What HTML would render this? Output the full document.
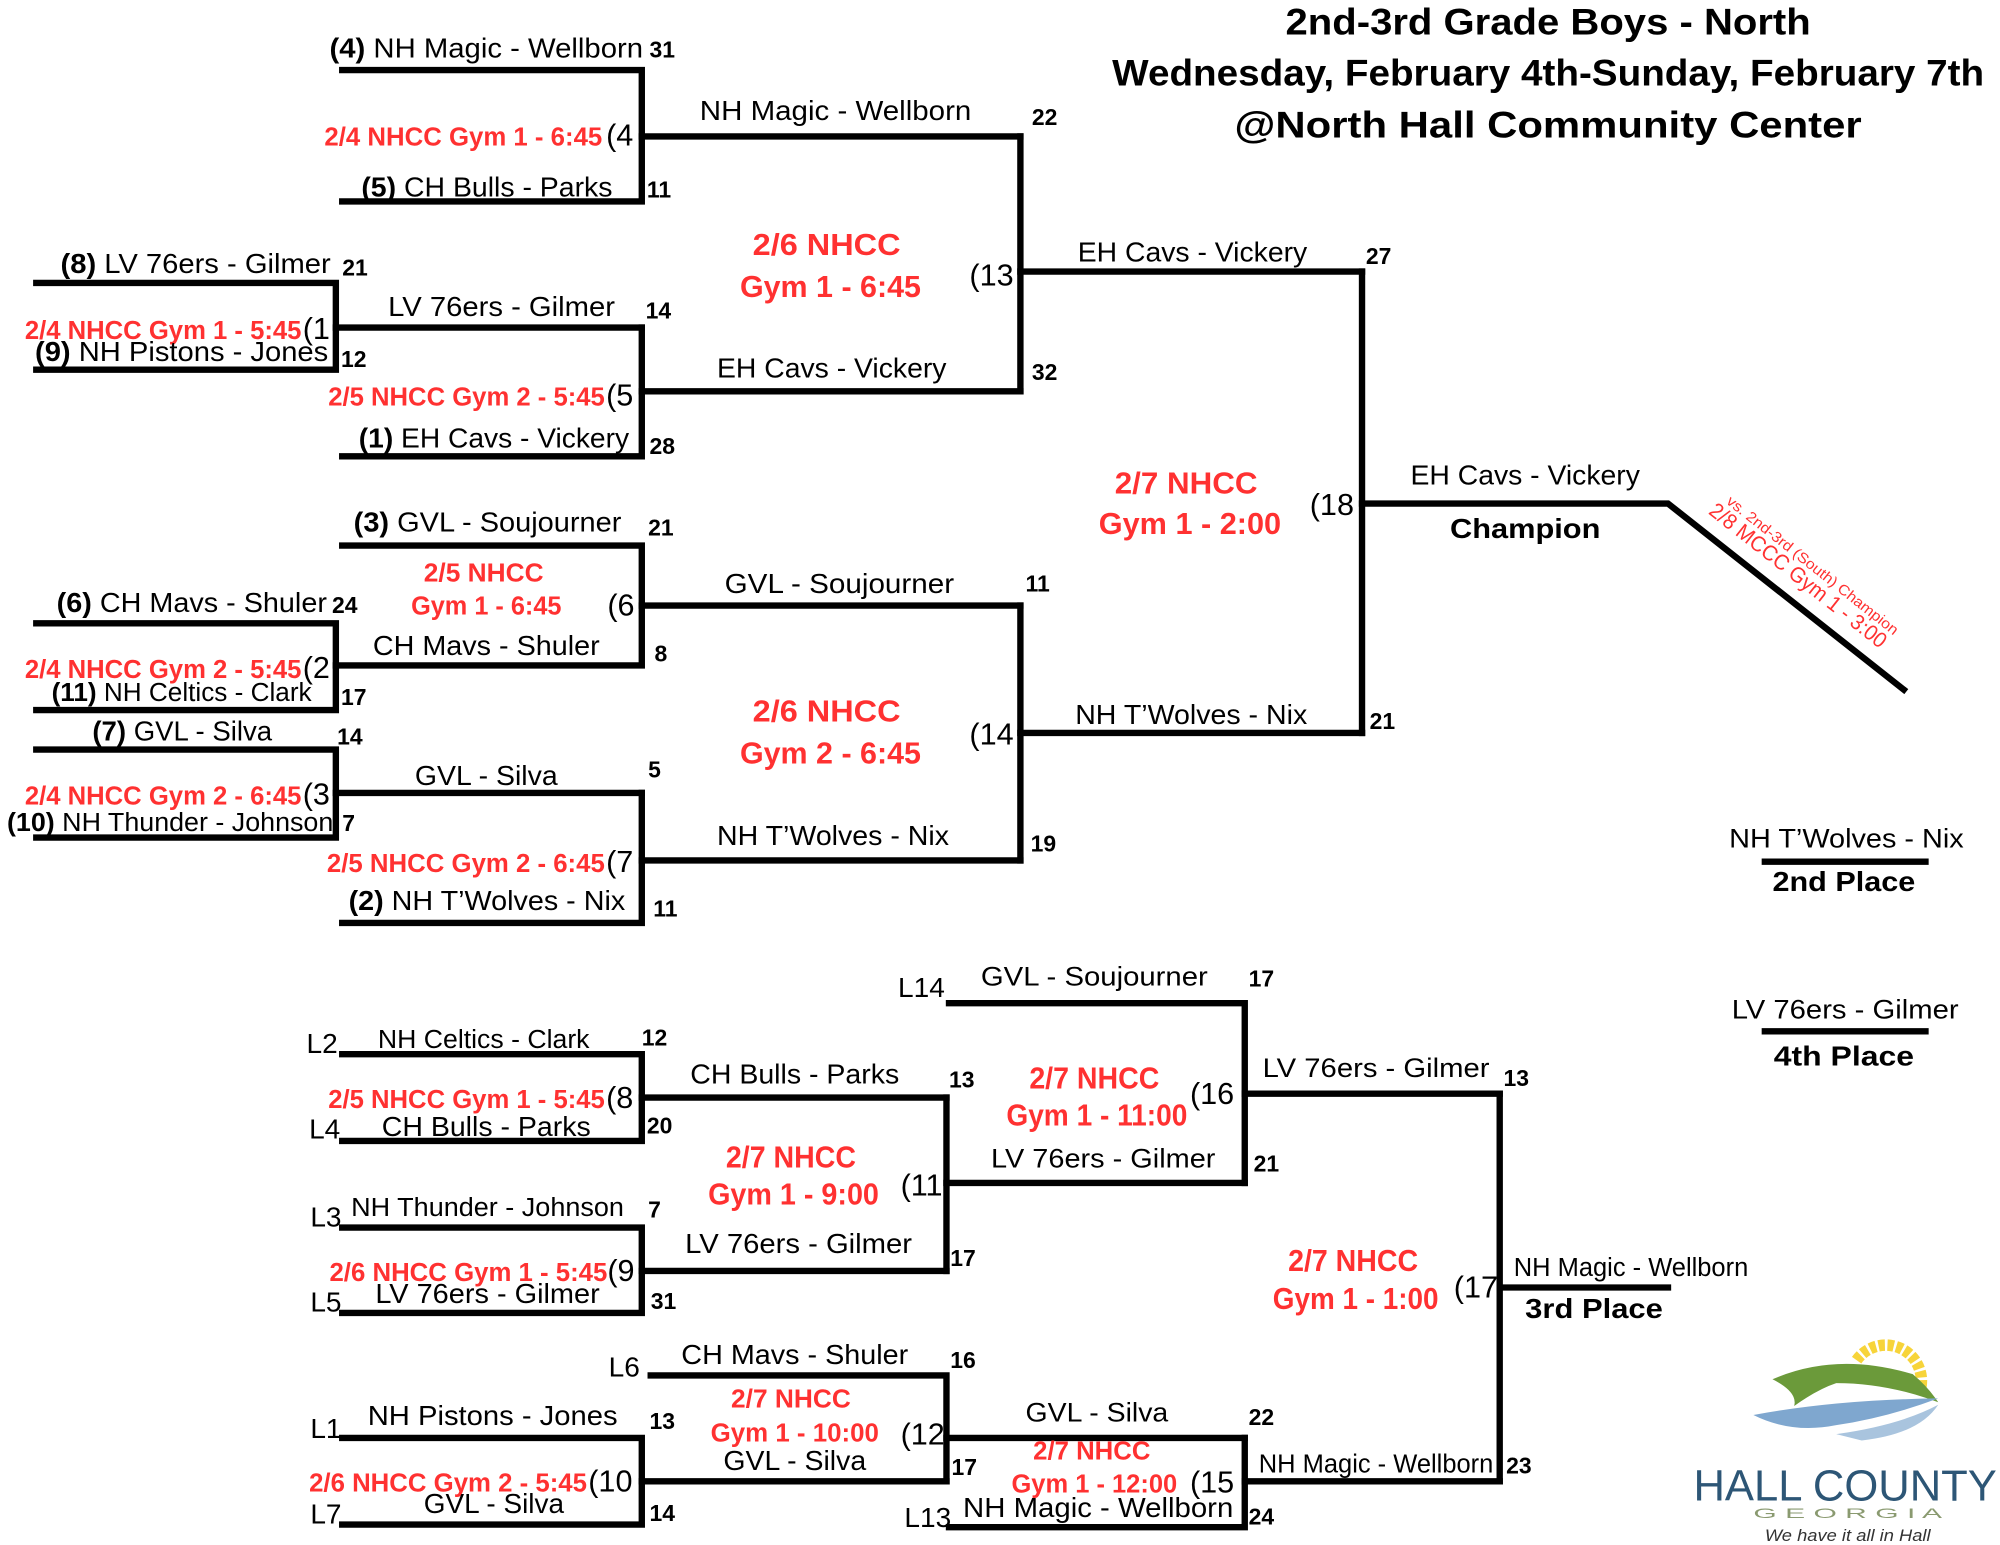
<!DOCTYPE html>
<html><head><meta charset="utf-8"><style>
html,body{margin:0;padding:0;background:#fff;}
svg{display:block;}
text{font-family:"Liberation Sans Narrow","Liberation Sans",sans-serif;}
.t{font-size:22px;fill:#000;}
.s{font-size:20px;fill:#000;}
.n{font-size:18px;font-weight:bold;fill:#000;}
.r{font-size:20px;font-weight:bold;fill:#ff3131;}
.R{font-size:24px;font-weight:bold;fill:#ff3131;}
.p{font-size:24px;fill:#000;}
.b{font-size:22px;font-weight:bold;fill:#000;font-family:"Liberation Sans",sans-serif;}
.h{font-size:29px;font-weight:bold;fill:#000;}
.w{font-size:21px;fill:#000;font-family:"Liberation Sans",sans-serif;}
</style></head><body>
<svg width="2000" height="1545" viewBox="0 0 1568 1212" xmlns="http://www.w3.org/2000/svg">
<rect width="1568" height="1212" fill="#fff"/>
<g fill="none" stroke="#000" stroke-width="5" stroke-linecap="square">
<!-- top bracket -->
<polyline points="268,55 503,55 503,158 268,158"/>
<line x1="503" y1="107" x2="800" y2="107"/>
<polyline points="28,222 263,222 263,290 28,290"/>
<line x1="263" y1="257" x2="503" y2="257"/>
<polyline points="503,257 503,358 268,358"/>
<line x1="503" y1="307" x2="800" y2="307"/>
<line x1="800" y1="107" x2="800" y2="307"/>
<line x1="800" y1="213" x2="1068" y2="213"/>
<polyline points="268,428 503,428 503,522 263,522"/>
<line x1="503" y1="475" x2="800" y2="475"/>
<polyline points="28,489 263,489 263,557 28,557"/>
<polyline points="28,588 263,588 263,657 28,657"/>
<line x1="263" y1="622" x2="503" y2="622"/>
<polyline points="503,622 503,724 268,724"/>
<line x1="503" y1="675" x2="800" y2="675"/>
<line x1="800" y1="475" x2="800" y2="675"/>
<line x1="800" y1="575" x2="1068" y2="575"/>
<line x1="1068" y1="213" x2="1068" y2="575"/>
<polyline points="1068,395 1308,395 1493,541"/>
<line x1="1384" y1="676" x2="1510" y2="676"/>
<line x1="1384" y1="809" x2="1510" y2="809"/>
<!-- consolation -->
<polyline points="268,827 503,827 503,895 268,895"/>
<line x1="503" y1="861" x2="742" y2="861"/>
<polyline points="268,963 503,963 503,1030 268,1030"/>
<line x1="503" y1="997" x2="742" y2="997"/>
<line x1="742" y1="861" x2="742" y2="997"/>
<line x1="742" y1="928" x2="976" y2="928"/>
<polyline points="744,787 976,787 976,928"/>
<line x1="976" y1="858" x2="1176" y2="858"/>
<polyline points="268,1128 503,1128 503,1196 268,1196"/>
<line x1="503" y1="1162" x2="742" y2="1162"/>
<polyline points="510,1079 742,1079 742,1162"/>
<line x1="742" y1="1128" x2="976" y2="1128"/>
<polyline points="744,1198 976,1198 976,1128"/>
<line x1="976" y1="1162" x2="1176" y2="1162"/>
<line x1="1176" y1="858" x2="1176" y2="1162"/>
<line x1="1176" y1="1010" x2="1308" y2="1010"/>
</g>

<!-- title -->
<text class="h" x="1214" y="27" text-anchor="middle" textLength="412" lengthAdjust="spacingAndGlyphs">2nd-3rd Grade Boys  - North</text>
<text class="h" x="1214" y="67" text-anchor="middle" textLength="684" lengthAdjust="spacingAndGlyphs">Wednesday, February 4th-Sunday, February 7th</text>
<text class="h" x="1214" y="108" text-anchor="middle" textLength="492" lengthAdjust="spacingAndGlyphs">@North Hall Community Center</text>

<g lengthAdjust="spacingAndGlyphs">
<!-- top bracket labels -->
<text class="t" x="258" y="45" textLength="246" lengthAdjust="spacingAndGlyphs"><tspan font-weight="bold">(4)</tspan> NH Magic - Wellborn</text>
<text class="n" x="509" y="45">31</text>
<text class="r" x="472" y="114" text-anchor="end" textLength="218" lengthAdjust="spacingAndGlyphs">2/4 NHCC Gym 1 - 6:45</text>
<text class="p" x="475" y="114">(4</text>
<text class="t" x="283" y="154" textLength="197" lengthAdjust="spacingAndGlyphs"><tspan font-weight="bold">(5)</tspan> CH Bulls - Parks</text>
<text class="n" x="507" y="155">11</text>
<text class="t" x="655" y="94" text-anchor="middle" textLength="213" lengthAdjust="spacingAndGlyphs">NH Magic - Wellborn</text>
<text class="n" x="809" y="98">22</text>
<text class="R" x="648" y="200" text-anchor="middle" textLength="116" lengthAdjust="spacingAndGlyphs">2/6 NHCC</text>
<text class="R" x="651" y="233" text-anchor="middle" textLength="142" lengthAdjust="spacingAndGlyphs">Gym 1 - 6:45</text>
<text class="p" x="760" y="224">(13</text>
<text class="t" x="47" y="214" textLength="212" lengthAdjust="spacingAndGlyphs"><tspan font-weight="bold">(8)</tspan> LV 76ers - Gilmer</text>
<text class="n" x="268" y="216">21</text>
<text class="r" x="236" y="266" text-anchor="end" textLength="217" lengthAdjust="spacingAndGlyphs">2/4 NHCC Gym 1 - 5:45</text>
<text class="p" x="237" y="266">(1</text>
<text class="t" x="27" y="283" textLength="230" lengthAdjust="spacingAndGlyphs"><tspan font-weight="bold">(9)</tspan> NH Pistons - Jones</text>
<text class="n" x="267" y="288">12</text>
<text class="t" x="393" y="248" text-anchor="middle" textLength="178" lengthAdjust="spacingAndGlyphs">LV 76ers - Gilmer</text>
<text class="n" x="506" y="250">14</text>
<text class="r" x="474" y="318" text-anchor="end" textLength="217" lengthAdjust="spacingAndGlyphs">2/5 NHCC Gym 2 - 5:45</text>
<text class="p" x="475" y="318">(5</text>
<text class="t" x="652" y="296" text-anchor="middle" textLength="180" lengthAdjust="spacingAndGlyphs">EH Cavs - Vickery</text>
<text class="n" x="809" y="298">32</text>
<text class="t" x="281" y="351" textLength="212" lengthAdjust="spacingAndGlyphs"><tspan font-weight="bold">(1)</tspan> EH Cavs - Vickery</text>
<text class="n" x="509" y="356">28</text>
<text class="t" x="935" y="205" text-anchor="middle" textLength="180" lengthAdjust="spacingAndGlyphs">EH Cavs - Vickery</text>
<text class="n" x="1071" y="207">27</text>
<text class="R" x="930" y="387" text-anchor="middle" textLength="112" lengthAdjust="spacingAndGlyphs">2/7 NHCC</text>
<text class="R" x="933" y="419" text-anchor="middle" textLength="143" lengthAdjust="spacingAndGlyphs">Gym 1 - 2:00</text>
<text class="p" x="1027" y="404">(18</text>
<text class="t" x="1196" y="380" text-anchor="middle" textLength="180" lengthAdjust="spacingAndGlyphs">EH Cavs - Vickery</text>
<text class="b" x="1196" y="422" text-anchor="middle" textLength="118" lengthAdjust="spacingAndGlyphs">Champion</text>

<text class="t" x="277" y="417" textLength="210" lengthAdjust="spacingAndGlyphs"><tspan font-weight="bold">(3)</tspan> GVL - Soujourner</text>
<text class="n" x="508" y="420">21</text>
<text class="r" x="379" y="456" text-anchor="middle" textLength="94" lengthAdjust="spacingAndGlyphs">2/5 NHCC</text>
<text class="r" x="381" y="482" text-anchor="middle" textLength="118" lengthAdjust="spacingAndGlyphs">Gym 1 - 6:45</text>
<text class="p" x="476" y="483">(6</text>
<text class="t" x="44" y="480" textLength="212" lengthAdjust="spacingAndGlyphs"><tspan font-weight="bold">(6)</tspan> CH Mavs - Shuler</text>
<text class="n" x="260" y="481">24</text>
<text class="t" x="381" y="514" text-anchor="middle" textLength="178" lengthAdjust="spacingAndGlyphs">CH Mavs - Shuler</text>
<text class="n" x="513" y="519">8</text>
<text class="t" x="658" y="465" text-anchor="middle" textLength="180" lengthAdjust="spacingAndGlyphs">GVL - Soujourner</text>
<text class="n" x="804" y="464">11</text>
<text class="R" x="648" y="566" text-anchor="middle" textLength="116" lengthAdjust="spacingAndGlyphs">2/6 NHCC</text>
<text class="R" x="651" y="599" text-anchor="middle" textLength="142" lengthAdjust="spacingAndGlyphs">Gym 2 - 6:45</text>
<text class="p" x="760" y="584">(14</text>
<text class="r" x="236" y="532" text-anchor="end" textLength="217" lengthAdjust="spacingAndGlyphs">2/4 NHCC Gym 2 - 5:45</text>
<text class="p" x="237" y="532">(2</text>
<text class="s" x="40" y="550" textLength="204" lengthAdjust="spacingAndGlyphs"><tspan font-weight="bold">(11)</tspan> NH Celtics - Clark</text>
<text class="n" x="267" y="553">17</text>
<text class="t" x="72" y="581" textLength="141" lengthAdjust="spacingAndGlyphs"><tspan font-weight="bold">(7)</tspan> GVL - Silva</text>
<text class="n" x="264" y="584">14</text>
<text class="t" x="381" y="616" text-anchor="middle" textLength="112" lengthAdjust="spacingAndGlyphs">GVL - Silva</text>
<text class="n" x="508" y="610">5</text>
<text class="r" x="236" y="631" text-anchor="end" textLength="217" lengthAdjust="spacingAndGlyphs">2/4 NHCC Gym 2 - 6:45</text>
<text class="p" x="237" y="631">(3</text>
<text class="s" x="5" y="652" textLength="256" lengthAdjust="spacingAndGlyphs"><tspan font-weight="bold">(10)</tspan> NH Thunder - Johnson</text>
<text class="n" x="268" y="652">7</text>
<text class="r" x="474" y="684" text-anchor="end" textLength="218" lengthAdjust="spacingAndGlyphs">2/5 NHCC Gym 2 - 6:45</text>
<text class="p" x="475" y="684">(7</text>
<text class="t" x="273" y="714" textLength="217" lengthAdjust="spacingAndGlyphs"><tspan font-weight="bold">(2)</tspan> NH T’Wolves - Nix</text>
<text class="n" x="512" y="719">11</text>
<text class="t" x="653" y="663" text-anchor="middle" textLength="182" lengthAdjust="spacingAndGlyphs">NH T’Wolves - Nix</text>
<text class="n" x="808" y="668">19</text>
<text class="t" x="934" y="568" text-anchor="middle" textLength="182" lengthAdjust="spacingAndGlyphs">NH T’Wolves - Nix</text>
<text class="n" x="1074" y="572">21</text>

<g transform="translate(1350,392) rotate(38.3)" fill="#ff3131" font-family="Liberation Sans, sans-serif">
<text x="4" y="0" font-size="11.5" textLength="168" lengthAdjust="spacingAndGlyphs">vs. 2nd-3rd (South) Champion</text>
<text x="-2" y="15" font-size="17" textLength="172" lengthAdjust="spacingAndGlyphs">2/8 MCCC Gym 1 - 3:00</text>
</g>

<text class="w" x="1448" y="665" text-anchor="middle" textLength="184" lengthAdjust="spacingAndGlyphs">NH T’Wolves - Nix</text>
<text class="b" x="1446" y="699" text-anchor="middle" textLength="112" lengthAdjust="spacingAndGlyphs">2nd Place</text>
<text class="w" x="1447" y="799" text-anchor="middle" textLength="178" lengthAdjust="spacingAndGlyphs">LV 76ers - Gilmer</text>
<text class="b" x="1446" y="836" text-anchor="middle" textLength="110" lengthAdjust="spacingAndGlyphs">4th Place</text>

<!-- consolation labels -->
<text class="t" x="704" y="782">L14</text>
<text class="w" x="858" y="773" text-anchor="middle" textLength="178" lengthAdjust="spacingAndGlyphs">GVL - Soujourner</text>
<text class="n" x="979" y="774">17</text>
<text class="t" x="240" y="826">L2</text>
<text class="s" x="379" y="822" text-anchor="middle" textLength="166" lengthAdjust="spacingAndGlyphs">NH Celtics - Clark</text>
<text class="n" x="503" y="820">12</text>
<text class="t" x="623" y="850" text-anchor="middle" textLength="164" lengthAdjust="spacingAndGlyphs">CH Bulls - Parks</text>
<text class="n" x="744" y="853">13</text>
<text class="r" x="474" y="869" text-anchor="end" textLength="217" lengthAdjust="spacingAndGlyphs">2/5 NHCC Gym 1 - 5:45</text>
<text class="p" x="475" y="869">(8</text>
<text class="t" x="242" y="893">L4</text>
<text class="t" x="381" y="891" text-anchor="middle" textLength="164" lengthAdjust="spacingAndGlyphs">CH Bulls - Parks</text>
<text class="n" x="507" y="889">20</text>
<text class="R" x="858" y="854" text-anchor="middle" textLength="102" lengthAdjust="spacingAndGlyphs">2/7 NHCC</text>
<text class="R" x="860" y="883" text-anchor="middle" textLength="142" lengthAdjust="spacingAndGlyphs">Gym 1 - 11:00</text>
<text class="p" x="933" y="866">(16</text>
<text class="w" x="1079" y="845" text-anchor="middle" textLength="178" lengthAdjust="spacingAndGlyphs">LV 76ers - Gilmer</text>
<text class="n" x="1179" y="852">13</text>
<text class="w" x="865" y="916" text-anchor="middle" textLength="176" lengthAdjust="spacingAndGlyphs">LV 76ers - Gilmer</text>
<text class="n" x="983" y="919">21</text>
<text class="R" x="620" y="916" text-anchor="middle" textLength="102" lengthAdjust="spacingAndGlyphs">2/7 NHCC</text>
<text class="R" x="622" y="945" text-anchor="middle" textLength="134" lengthAdjust="spacingAndGlyphs">Gym 1 - 9:00</text>
<text class="p" x="706" y="938">(11</text>
<text class="t" x="243" y="962">L3</text>
<text class="s" x="382" y="954" text-anchor="middle" textLength="214" lengthAdjust="spacingAndGlyphs">NH Thunder - Johnson</text>
<text class="n" x="508" y="955">7</text>
<text class="t" x="626" y="983" text-anchor="middle" textLength="178" lengthAdjust="spacingAndGlyphs">LV 76ers - Gilmer</text>
<text class="n" x="745" y="993">17</text>
<text class="r" x="476" y="1005" text-anchor="end" textLength="218" lengthAdjust="spacingAndGlyphs">2/6 NHCC Gym 1 - 5:45</text>
<text class="p" x="476" y="1005">(9</text>
<text class="t" x="243" y="1029">L5</text>
<text class="t" x="382" y="1022" text-anchor="middle" textLength="176" lengthAdjust="spacingAndGlyphs">LV 76ers - Gilmer</text>
<text class="n" x="510" y="1027">31</text>
<text class="R" x="1061" y="997" text-anchor="middle" textLength="102" lengthAdjust="spacingAndGlyphs">2/7 NHCC</text>
<text class="R" x="1063" y="1027" text-anchor="middle" textLength="130" lengthAdjust="spacingAndGlyphs">Gym 1 - 1:00</text>
<text class="p" x="1140" y="1018">(17</text>
<text class="s" x="1279" y="1001" text-anchor="middle" textLength="184" lengthAdjust="spacingAndGlyphs">NH Magic - Wellborn</text>
<text class="b" x="1250" y="1034" text-anchor="middle" textLength="108" lengthAdjust="spacingAndGlyphs">3rd Place</text>

<text class="t" x="477" y="1080">L6</text>
<text class="t" x="623" y="1070" text-anchor="middle" textLength="178" lengthAdjust="spacingAndGlyphs">CH Mavs - Shuler</text>
<text class="n" x="745" y="1073">16</text>
<text class="r" x="620" y="1104" text-anchor="middle" textLength="94" lengthAdjust="spacingAndGlyphs">2/7 NHCC</text>
<text class="r" x="623" y="1131" text-anchor="middle" textLength="132" lengthAdjust="spacingAndGlyphs">Gym 1 - 10:00</text>
<text class="p" x="706" y="1133">(12</text>
<text class="t" x="623" y="1153" text-anchor="middle" textLength="112" lengthAdjust="spacingAndGlyphs">GVL - Silva</text>
<text class="n" x="746" y="1157">17</text>
<text class="t" x="243" y="1128">L1</text>
<text class="t" x="386" y="1118" text-anchor="middle" textLength="196" lengthAdjust="spacingAndGlyphs">NH Pistons - Jones</text>
<text class="n" x="509" y="1121">13</text>
<text class="r" x="460" y="1170" text-anchor="end" textLength="218" lengthAdjust="spacingAndGlyphs">2/6 NHCC Gym 2 - 5:45</text>
<text class="p" x="461" y="1170">(10</text>
<text class="t" x="243" y="1195">L7</text>
<text class="t" x="387" y="1187" text-anchor="middle" textLength="110" lengthAdjust="spacingAndGlyphs">GVL - Silva</text>
<text class="n" x="509" y="1193">14</text>
<text class="w" x="860" y="1115" text-anchor="middle" textLength="112" lengthAdjust="spacingAndGlyphs">GVL - Silva</text>
<text class="n" x="979" y="1118">22</text>
<text class="r" x="856" y="1145" text-anchor="middle" textLength="92" lengthAdjust="spacingAndGlyphs">2/7 NHCC</text>
<text class="r" x="858" y="1171" text-anchor="middle" textLength="130" lengthAdjust="spacingAndGlyphs">Gym 1 - 12:00</text>
<text class="p" x="933" y="1171">(15</text>
<text class="s" x="1079" y="1155" text-anchor="middle" textLength="184" lengthAdjust="spacingAndGlyphs">NH Magic - Wellborn</text>
<text class="n" x="1181" y="1156">23</text>
<text class="t" x="709" y="1198">L13</text>
<text class="t" x="861" y="1190" text-anchor="middle" textLength="212" lengthAdjust="spacingAndGlyphs">NH Magic - Wellborn</text>
<text class="n" x="979" y="1196">24</text>
</g>

<!-- logo -->
<g>
<path d="M1456,1067 A28,28 0 0 1 1506,1090" fill="none" stroke="#f7d43a" stroke-width="9" stroke-dasharray="5,2"/>
<path d="M1390,1082 Q1440,1060 1500,1078 Q1512,1088 1520,1100 Q1480,1085 1440,1085 Q1425,1090 1407,1103 Q1410,1092 1390,1082 Z" fill="#6b9a3a"/>
<path d="M1375,1110 Q1440,1098 1520,1097 Q1480,1112 1440,1118 Q1405,1125 1375,1110 Z" fill="#7fa7cf"/>
<path d="M1440,1125 Q1490,1118 1520,1102 Q1505,1125 1460,1130 Z" fill="#a9c4de"/>
<text x="1328" y="1177" font-family="Liberation Sans, sans-serif" font-size="34" fill="#2d5676" textLength="238" lengthAdjust="spacingAndGlyphs">HALL COUNTY</text>
<text x="1375" y="1191" font-family="Liberation Serif, serif" font-size="11" fill="#8a9a70" textLength="148" lengthAdjust="spacingAndGlyphs">G E O R G I A</text>
<text x="1384" y="1209" font-family="Liberation Serif, serif" font-style="italic" font-size="13" fill="#333" textLength="130" lengthAdjust="spacingAndGlyphs">We have it all in Hall</text>
</g>
</svg>
</body></html>
